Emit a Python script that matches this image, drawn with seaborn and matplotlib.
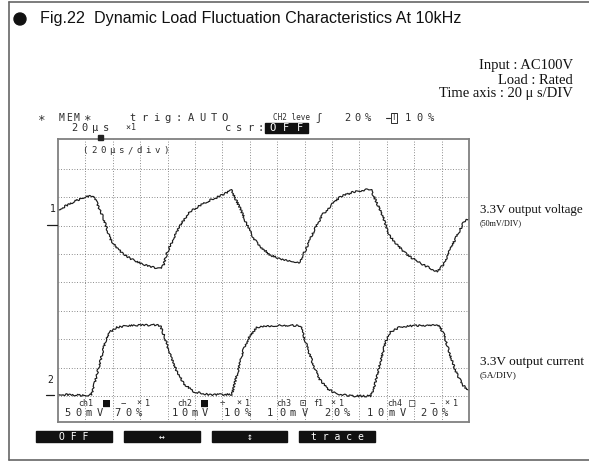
import matplotlib
matplotlib.use('Agg')
import matplotlib.pyplot as plt
import seaborn as sns
from matplotlib import font_manager
from matplotlib.patches import Rectangle, Ellipse
from matplotlib.lines import Line2D

# --- trace data (units: divisions) ---
voltage_t = [0.0, 0.3, 0.6, 0.99, 1.23, 1.35, 1.5, 1.66, 1.90, 2.15, 2.4, 2.63, 3.0, 3.36,
             3.73, 3.85, 3.97, 4.22, 4.46, 4.83, 5.2, 5.56, 6.04, 6.35, 6.41, 6.65, 6.90,
             7.14, 7.39, 7.75, 8.12, 8.60, 8.79, 9.03, 9.33, 9.64, 10.0, 10.31, 10.80,
             11.41, 11.53, 11.84, 12.08, 12.38, 12.75, 13.24, 13.60, 13.85, 14.09, 14.33,
             14.64, 14.82, 15.0]
voltage_v = [6.55, 6.70, 6.85, 7.02, 7.04, 6.96, 6.62, 6.26, 5.55, 5.20, 5.00, 4.85, 4.67, 4.55,
             4.49, 4.60, 5.02, 5.55, 6.02, 6.50, 6.72, 6.90, 7.10, 7.25, 7.08, 6.60, 6.02,
             5.55, 5.26, 4.96, 4.82, 4.75, 4.67, 5.14, 5.79, 6.37, 6.75, 7.02, 7.19,
             7.29, 7.02, 6.37, 5.67, 5.32, 4.96, 4.67, 4.49, 4.38, 4.67, 5.20,
             5.79, 6.14, 6.26]

current_t = [0.0, 0.5, 1.0, 1.23, 1.35, 1.54, 1.72, 1.90, 2.15, 2.5, 3.0, 3.5, 3.73, 3.91,
             4.10, 4.34, 4.58, 4.95, 5.56, 6.35, 6.53, 6.78, 7.02, 7.26, 7.6, 8.2, 8.85,
             9.03, 9.28, 9.52, 9.82, 10.13, 10.68, 11.41, 11.53, 11.77, 11.96, 12.14,
             12.50, 13.0, 13.5, 13.91, 14.09, 14.27, 14.52, 14.76, 15.0]
current_v = [0.06, 0.04, 0.02, 0.06, 0.50, 1.21, 1.91, 2.26, 2.42, 2.47, 2.49, 2.50, 2.48, 2.03,
             1.44, 0.86, 0.45, 0.15, 0.04, 0.06, 0.74, 1.68, 2.15, 2.41, 2.47, 2.49, 2.48,
             1.91, 1.21, 0.62, 0.27, 0.09, 0.0, 0.0, 0.27, 1.21, 1.91, 2.26,
             2.44, 2.48, 2.49, 2.48, 2.15, 1.56, 0.86, 0.39, 0.18]

title = "Fig.22  Dynamic Load Fluctuation Characteristics At 10kHz"
conditions = ["Input : AC100V", "Load : Rated", "Time axis : 20 \u03bc s/DIV"]
trace_labels = [("3.3V output voltage", "(50mV/DIV)"), ("3.3V output current", "(5A/DIV)")]
softkeys = ["O F F", "\u2194", "\u2195", "t r a c e"]

W, H = 589, 472
INK = '#1c1c1c'
SCOPE = '#2e2e2e'
MONO = 'DejaVu Sans Mono'

sns.set_theme(style='white')
plt.rcParams['font.family'] = ['DejaVu Sans']
names = {f.name for f in font_manager.fontManager.ttflist}
NARROW = 'Liberation Sans Narrow' if 'Liberation Sans Narrow' in names else 'Liberation Sans'
SERIF = 'Liberation Serif'

fig = plt.figure(figsize=(W / 100, H / 100), dpi=100)
fig.patch.set_facecolor('white')


def fx(x):
    return x / W


def fy(y):
    return 1 - y / H


renderer = fig.canvas.get_renderer()


def fit(t, width):
    bb = t.get_window_extent(renderer)
    t.set_fontsize(t.get_fontsize() * width / bb.width)
    return t


def chars(centers, y, s, size=7.5, color=SCOPE):
    for cx, ch in zip(centers, s):
        if ch != ' ':
            fig.text(fx(cx), fy(y), ch, ha='center', va='center', fontsize=size,
                     family=MONO, color=color)


def spaced(x0, pitch, y, s, **kw):
    chars([x0 + i * pitch for i in range(len(s))], y, s, **kw)


def hline(x0, x1, y, **kw):
    fig.add_artist(Line2D([fx(x0), fx(x1)], [fy(y), fy(y)], transform=fig.transFigure, **kw))


def vline(x, y0, y1, **kw):
    fig.add_artist(Line2D([fx(x), fx(x)], [fy(y0), fy(y1)], transform=fig.transFigure, **kw))


# outer frame (open on the right, as in the scan)
hline(9, 589, 2, color='#666', lw=1.2)
hline(9, 589, 460, color='#666', lw=1.2)
vline(9, 2, 460, color='#666', lw=1.2)

# title
fig.add_artist(Ellipse((fx(20), fy(19)), 12 / W, 12 / H, transform=fig.transFigure,
                       color='#111'))
t = fig.text(fx(40), fy(19), title, ha='left', va='center', family=NARROW,
             fontsize=12, color='#111')
fit(t, 422)

# test conditions
for i, s in enumerate(conditions):
    fig.text(fx(573), fy(66 + 14 * i), s, ha='right', va='center', family=SERIF,
             fontsize=10.5, color='#111')

# --- scope screen ---
ax = fig.add_axes([fx(58), fy(422), (469 - 58) / W, (422 - 139) / H])
for i in range(1, 15):
    ax.axvline(i, color='#666', lw=0.6, ls=(0, (1, 2.2)))
for j in range(0, 9):
    ax.axhline(j, color='#666', lw=0.6, ls=(0, (1, 2.2)))

sns.lineplot(x=voltage_t, y=voltage_v, ax=ax, estimator=None, sort=False,
             color=INK, linewidth=0.85)
sns.lineplot(x=current_t, y=current_v, ax=ax, estimator=None, sort=False,
             color=INK, linewidth=0.85)
for ln in ax.lines[-2:]:
    ln.set_sketch_params(0.9, 2.0, 8)

ax.set_xlim(0, 15)
ax.set_ylim(-0.915, 9.05)
ax.set_xticks([])
ax.set_yticks([])
ax.set(xlabel='', ylabel='')
for sp in ax.spines.values():
    sp.set_color('#808080')
    sp.set_linewidth(1.3)

# channel ground markers left of the screen
fig.text(fx(53), fy(209), '1', ha='center', va='center', fontsize=7, family=MONO, color=INK)
hline(47, 57, 225, color=INK, lw=0.9)
fig.text(fx(50), fy(380), '2', ha='center', va='center', fontsize=7, family=MONO, color=INK)
hline(46, 54, 395, color=INK, lw=0.9)

# trigger position marker
fig.add_artist(Rectangle((fx(98), fy(140)), 5 / W, 5 / H, transform=fig.transFigure,
                         color='#222'))

# header rows
chars([42], 118, '\u2217', size=9)
spaced(62, 7.5, 118, 'MEM', size=7)
chars([88], 118, '\u2217', size=9)
spaced(133, 11.5, 118, 'trig:AUTO')
fig.text(fx(273), fy(118), 'CH2 leve', ha='left', va='center', fontsize=5.5,
         family=MONO, color=SCOPE)
chars([318], 118, '\u0283', size=7.5)
spaced(347, 10.5, 118, '20%')
hline(386, 390, 118, color=SCOPE, lw=0.8)
fig.text(fx(394), fy(118), 'T', ha='center', va='center', fontsize=5.5, family=MONO,
         color=SCOPE, bbox=dict(boxstyle='square,pad=0.1', fc='white', ec=SCOPE, lw=0.7))
spaced(408, 11.5, 118, '10%')

spaced(74, 10.7, 128, '20\u03bcs')
chars([128, 134], 128, '\u00d71', size=6)
spaced(228, 11, 128, 'csr:')
fig.add_artist(Rectangle((fx(265), fy(133)), 43 / W, 10 / H, transform=fig.transFigure,
                         color='#111'))
spaced(273, 13.5, 128, 'OFF', color='white')

spaced(85, 9, 151, '(20\u03bcs/div)', size=6.5)

# bottom status rows inside the screen
row1 = 403
for x, s in [(86, 'ch1'), (185, 'ch2'), (284, 'ch3'), (395, 'ch4'), (318, 'f1')]:
    fig.text(fx(x), fy(row1), s, ha='center', va='center', fontsize=6, family=MONO, color=SCOPE)
chars([107, 205], row1, '\u25a0\u25a0', size=8.5, color='#111')
chars([303, 412], row1, '\u22a1\u25a1', size=7.5)
chars([123, 222, 432], row1, '\u2212\u00f7\u2212', size=6.5)
chars([139, 148, 239, 248, 333, 341, 447, 456], row1, '\u00d71\u00d71\u00d71\u00d71', size=6)

row2 = 413
chars([67, 78, 89, 100], row2, '50mV')
chars([117, 128, 139], row2, '70%')
chars([175, 185, 195, 205], row2, '10mV')
chars([227, 237, 248], row2, '10%')
chars([270, 282, 293, 305], row2, '10mV')
chars([327, 337, 347], row2, '20%')
chars([370, 380, 392, 403], row2, '10mV')
chars([423, 435, 445], row2, '20%')

# soft-key bar
for (x0, x1), s in zip([(36, 112), (124, 200), (212, 287), (299, 375)], softkeys):
    fig.add_artist(Rectangle((fx(x0), fy(442)), (x1 - x0) / W, 11 / H,
                             transform=fig.transFigure, color='#111'))
    fig.text(fx((x0 + x1) / 2), fy(436.5), s, ha='center', va='center', fontsize=7,
             family=MONO, color='white')

# trace labels right of the screen
for (main, scale), y in zip(trace_labels, [210, 362]):
    t = fig.text(fx(480), fy(y), main, ha='left', va='center', family=SERIF,
                 fontsize=8, color='#111')
    fit(t, 103)
    t = fig.text(fx(480), fy(y + 13), scale, ha='left', va='center', family=SERIF,
                 fontsize=6, color='#111')
    fit(t, 43 if 'mV' in scale else 37)

fig.savefig('out.png', dpi=100, facecolor='white')
